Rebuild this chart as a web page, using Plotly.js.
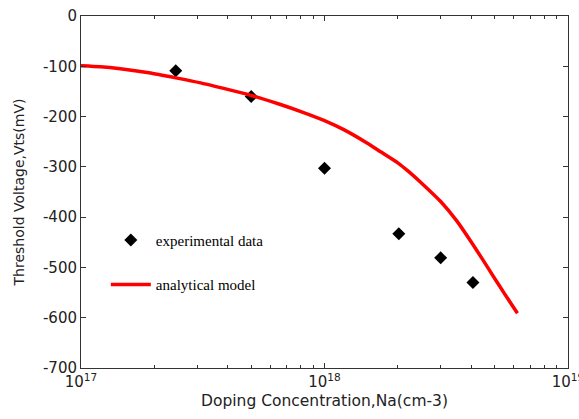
<!DOCTYPE html>
<html>
<head>
<meta charset="utf-8">
<script src="https://cdn.plot.ly/plotly-3.0.1.min.js"></script>
<style>html,body{margin:0;padding:0;background:#fff;}#chart{width:579px;height:419px;}</style>
</head>
<body>
<div id="chart"></div>
<script>
// Experimental data
const expDoping = [2.45e17, 5.0e17, 1.0e18, 2.02e18, 3.0e18, 4.07e18];
const expVts    = [-109, -160, -303, -433, -481, -530];

// Analytical model
const modelDoping = [1.0e17, 1.2e17, 1.45e17, 1.9e17, 2.45e17, 3.1e17, 4.0e17, 5.0e17, 6.5e17, 8.0e17,
                     1.0e18, 1.2e18, 1.5e18, 1.7e18, 2.0e18, 2.2e18, 2.5e18, 3.0e18, 3.5e18, 4.0e18,
                     4.5e18, 5.0e18, 5.5e18, 6.2e18];
const modelVts    = [-99, -101, -105, -113, -123, -133, -146, -158, -175, -190,
                     -208, -226, -253, -270, -292, -308, -332, -369, -408, -449,
                     -487, -522, -553, -591];

const yTicks = [0, -100, -200, -300, -400, -500, -600, -700];
const xMajorTicks = [1e17, 1e18, 1e19];
const xMajorLabels = ['10<sup>17</sup>', '10<sup>18</sup>', '10<sup>19</sup>'];
const xMinorTicks = [2e17, 3e17, 4e17, 5e17, 6e17, 7e17, 8e17, 9e17,
                     2e18, 3e18, 4e18, 5e18, 6e18, 7e18, 8e18, 9e18];

const traces = [
  {
    x: expDoping, y: expVts, type: 'scatter', mode: 'markers',
    name: 'experimental data', legendgroup: 'a',
    marker: {symbol: 'diamond', size: 10, color: '#000'}
  },
  {
    x: modelDoping, y: modelVts, type: 'scatter', mode: 'lines',
    name: 'analytical model', legendgroup: 'b',
    line: {color: '#ff0000', width: 3.5, shape: 'spline', smoothing: 0.5}
  }
];

const axisCommon = {
  showgrid: false, zeroline: false, showline: true, mirror: 'ticks',
  linecolor: '#333', linewidth: 1, ticks: 'inside', tickcolor: '#333',
  ticklen: 5, tickwidth: 1, ticklabeloverflow: 'allow',
  tickfont: {family: 'DejaVu Sans', size: 15, color: '#222'}
};

const layout = {
  width: 579, height: 419,
  margin: {l: 81, r: 11, t: 16, b: 51},
  paper_bgcolor: '#fff', plot_bgcolor: '#fff',
  showlegend: true,
  legend: {
    x: 0.051, y: 0.41, xanchor: 'left', yanchor: 'top',
    bgcolor: 'rgba(0,0,0,0)', borderwidth: 0,
    traceorder: 'grouped', tracegroupgap: 22, itemwidth: 40,
    font: {family: 'Liberation Serif', size: 15, color: '#000'}
  },
  xaxis: Object.assign({}, axisCommon, {
    type: 'log', range: [17, 19.0001],
    tickmode: 'array', tickvals: xMajorTicks, ticktext: xMajorLabels,
    minor: {tickmode: 'array', tickvals: xMinorTicks, ticks: 'inside',
            ticklen: 3, tickcolor: '#333', tickwidth: 1, showgrid: false},
    title: {text: 'Doping Concentration,Na(cm-3)', standoff: 5,
            font: {family: 'DejaVu Sans', size: 15.5, color: '#222'}}
  }),
  yaxis: Object.assign({}, axisCommon, {
    range: [-700, 0], tickvals: yTicks, ticktext: yTicks.map(String),
    title: {text: 'Threshold Voltage,Vts(mV)', standoff: 15,
            font: {family: 'DejaVu Sans', size: 14, color: '#222'}}
  })
};

Plotly.newPlot('chart', traces, layout, {displayModeBar: false, staticPlot: true});
</script>
</body>
</html>
